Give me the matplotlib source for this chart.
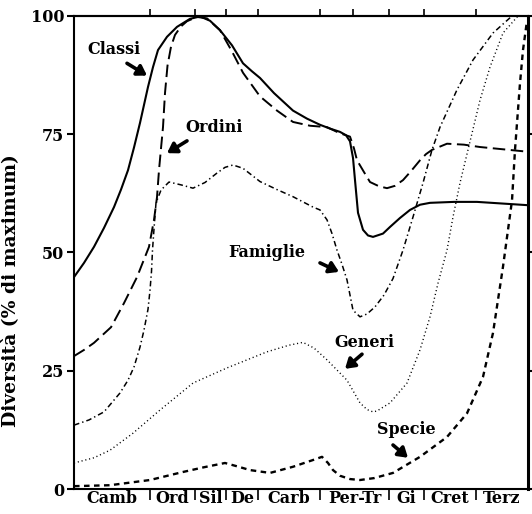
import matplotlib.pyplot as plt

plt.rcParams['font.family'] = ['DejaVu Serif']
plt.rcParams['font.weight'] = 'bold'
plt.rcParams['lines.scale_dashes'] = False

# --- dati (asse x in unità arbitrarie 0-454) ---
periodi = ['Camb', 'Ord', 'Sil', 'De', 'Carb', 'Per-Tr', 'Gi', 'Cret', 'Terz']
limiti_periodi = [0, 76, 121, 152, 184, 246, 315, 350, 402, 454]
confini_alto = [76, 121, 152, 184, 246, 279, 315, 350, 402]

classi_x = [0, 10, 20, 30, 40, 47, 54, 60, 66, 74, 79, 84, 93, 103, 116,
            126, 136, 146, 158, 169, 178, 186, 200, 219, 233, 246, 256, 266,
            272, 276, 279, 281, 284, 289, 294, 299, 309, 316, 326, 336, 346,
            356, 380, 403, 454]
classi_y = [44.8, 47.8, 51.2, 55.2, 59.6, 63.3, 67.4, 72.2, 77.4, 85,
            89.2, 92.8, 95.6, 97.7, 99.4, 99.9, 99, 97, 93.8, 90, 88.3, 86.9,
            83.7, 80, 78.3, 77, 76.2, 75.5, 74.8, 73.5, 70, 65.3, 58.4, 54.8,
            53.6, 53.3, 54, 55.4, 57.3, 59, 60.1, 60.5, 60.7, 60.7, 60]

ordini_x = [0, 10, 20, 37, 50, 63, 75, 80, 83, 85, 87, 89, 91, 93.5, 97, 101,
            107, 113, 123, 133, 146, 158, 169, 186, 203, 219, 236, 253, 266,
            276, 280, 283, 290, 296, 305, 313, 321, 329, 337, 346, 352, 358,
            373, 390, 406, 454]
ordini_y = [28.1, 29.4, 30.9, 34.2, 39.3, 44.8, 51.2, 56.9, 61.7, 67.4, 72,
            76.5, 83.7, 89.5, 93.5, 96, 97.8, 98.9, 99.8, 99.5, 97, 92.5, 88,
            83, 80, 77.6, 76.8, 76.5, 75.2, 74.5, 72, 69.5, 67, 64.9, 64,
            63.6, 64.1, 65.3, 67.2, 69.5, 70.8, 71.7, 73, 72.8, 72.3, 71.3]

famiglie_x = [0, 15, 30, 46, 54, 60, 66, 70, 74, 76, 77.5, 78.5, 80, 82, 87,
              95, 107, 119, 131, 143, 151, 159, 169, 186, 203, 219, 239, 246,
              253, 258, 263, 268, 273, 279, 286, 293, 301, 310, 319, 329, 339,
              349, 358, 366, 383, 399, 419, 438]
famiglie_y = [13.5, 14.6, 16.3, 20.3, 23, 25.8, 30, 33.6, 38, 42, 46, 50.5,
              55, 60.5, 63.2, 64.9, 64.3, 63.6, 64.8, 66.8, 68, 68.5, 67.8,
              65, 63.3, 61.8, 59.6, 59, 56.9, 54, 50.5, 47.5, 44.2, 37.8,
              36.4, 37, 38.5, 41, 44.5, 50.5, 57.5, 64.7, 71.7, 76.5, 84.4,
              90.7, 96.4, 100]

generi_x = [0, 20, 36, 59, 86, 119, 153, 193, 215, 229, 240, 253, 273, 286,
            293, 299, 303, 316, 333, 346, 356, 364, 373, 379, 386, 394, 406,
            416, 429, 444]
generi_y = [5.5, 6.6, 8.2, 11.8, 16.7, 22.4, 25.6, 29, 30.4, 31, 29.8, 27.3,
            23, 18.2, 16.8, 16.3, 16.5, 18.2, 22.4, 29.4, 36.4, 43.5, 50.5,
            57.5, 64.7, 71.7, 82.2, 89.2, 96.4, 100]

specie_x = [0, 36, 76, 109, 130, 151, 163, 176, 196, 219, 240, 248, 254, 259,
            266, 276, 286, 300, 319, 346, 373, 393, 409, 419, 429, 438, 441,
            446, 449, 453]
specie_y = [0.6, 0.8, 1.9, 3.6, 4.6, 5.5, 4.8, 4, 3.4, 4.7, 6.2, 6.8, 5.5,
            4, 2.8, 2.1, 1.9, 2.3, 3.4, 6.8, 11, 16, 23.7, 33, 47, 61, 71.7,
            85.8, 92.8, 99]

# --- grafico ---
fig = plt.figure(figsize=(5.32, 5.14), dpi=100)
ax = fig.add_axes([74 / 532, 25 / 514, 454 / 532, 473 / 514])

ax.plot(classi_x, classi_y, color='k', lw=1.5, solid_joinstyle='round')
ax.plot(ordini_x, ordini_y, color='k', lw=1.4, linestyle=(0, (9, 4)))
ax.plot(famiglie_x, famiglie_y, color='k', lw=1.1, linestyle=(0, (4, 2.2, 1, 2.2)))
ax.plot(generi_x, generi_y, color='k', lw=1.0, linestyle=(0, (0.8, 2.0)))
ax.plot(specie_x, specie_y, color='k', lw=1.7, linestyle=(0, (4, 3.2)))

ax.set_xlim(0, 454)
ax.set_ylim(0, 100)

# etichette delle curve con frecce
etichette = [
    ('Classi', 40, 93.0, (53, 90.0), (73, 87.4)),
    ('Ordini', 140, 76.5, (113, 73.6), (93, 71.0)),
    ('Famiglie', 193, 50.0, (246, 47.8), (265, 45.9)),
    ('Generi', 290, 30.9, (288, 28.5), (271, 25.4)),
    ('Specie', 332, 12.5, (319, 9.3), (334, 6.6)),
]
for testo, tx, ty, coda, punta in etichette:
    ax.text(tx, ty, testo, ha='center', va='center', fontsize=11.5, fontweight='bold')
    ax.annotate('', xy=punta, xytext=coda,
                arrowprops=dict(arrowstyle='-|>,head_length=0.55,head_width=0.35',
                                lw=2.6, color='k', shrinkA=0, shrinkB=0))

# assi e tacche
for lato in ['left', 'top', 'bottom']:
    ax.spines[lato].set_linewidth(1.5)
ax.spines['right'].set_linewidth(2.2)

ax.set_yticks([0, 25, 50, 75, 100])
ax.set_yticklabels(['0', '25', '50', '75', '100'], fontsize=11.5, fontweight='bold')
ax.tick_params(axis='y', direction='out', length=5, width=1.5, pad=2, right=True)

centri = [(limiti_periodi[i] + limiti_periodi[i + 1]) / 2 for i in range(len(periodi))]
ax.set_xticks(limiti_periodi[1:-1])
ax.set_xticklabels([])
ax.set_xticks(centri, minor=True)
ax.set_xticklabels(periodi, minor=True, fontsize=11.5, fontweight='bold')
ax.tick_params(axis='x', which='major', direction='out', length=8, width=1.2)
ax.tick_params(axis='x', which='minor', length=0, pad=1)

# tacche in alto
ax_top = ax.secondary_xaxis('top')
ax_top.set_xticks(confini_alto)
ax_top.set_xticklabels([])
ax_top.tick_params(direction='out', length=5, width=1.2)
ax_top.spines['top'].set_linewidth(1.5)

ax.set_ylabel('Diversità (% di maximum)', fontsize=13.5, fontweight='bold')
ax.yaxis.set_label_coords(-54 / 454, 0.42)

fig.savefig('out.png', dpi=100)
